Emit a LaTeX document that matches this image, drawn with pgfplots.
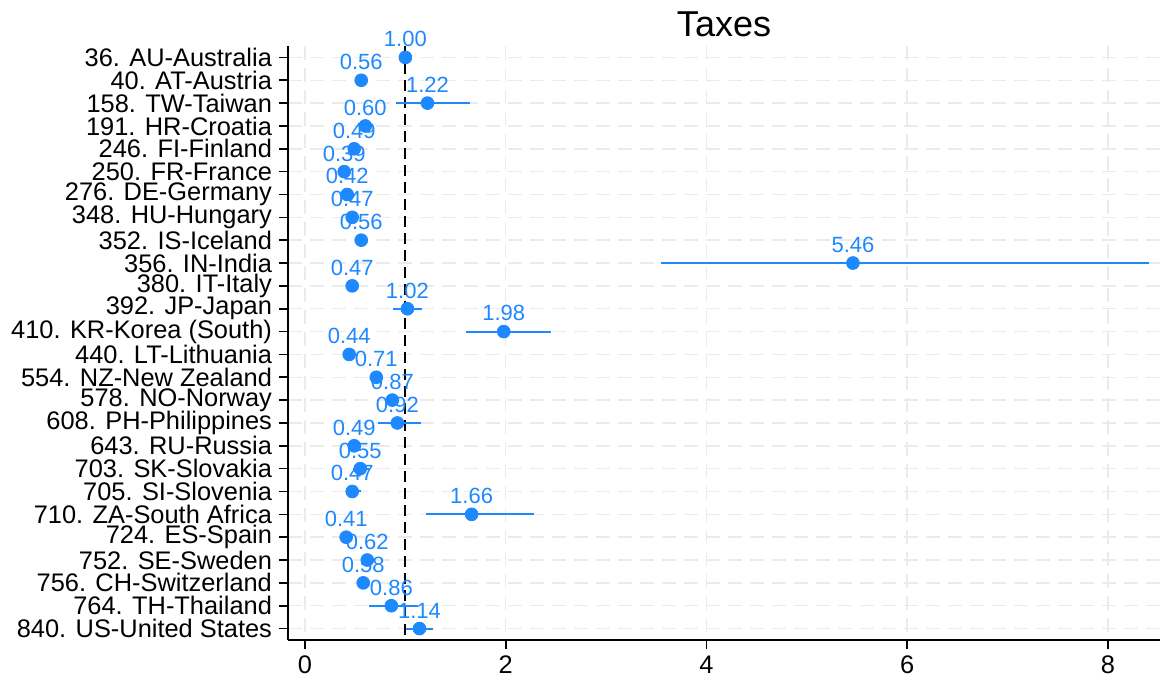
\documentclass[border=0pt]{standalone}
\usepackage{fontspec}
\setmainfont{Liberation Sans}
\usepackage{pgfplots}
\usepackage{pgfplotstable}
\pgfplotsset{compat=1.18}
\definecolor{dblue}{RGB}{30,136,255}
\pgfplotstableread{
y x em ep lab
1 1.00 0.00 0.00 1.00
2 0.56 0.03 0.03 0.56
3 1.22 0.31 0.42 1.22
4 0.60 0.06 0.08 0.60
5 0.49 0.04 0.04 0.49
6 0.39 0.03 0.03 0.39
7 0.42 0.03 0.03 0.42
8 0.47 0.04 0.04 0.47
9 0.56 0.03 0.03 0.56
10 5.46 1.91 2.95 5.46
11 0.47 0.03 0.03 0.47
12 1.02 0.14 0.15 1.02
13 1.98 0.38 0.47 1.98
14 0.44 0.04 0.04 0.44
15 0.71 0.04 0.05 0.71
16 0.87 0.05 0.05 0.87
17 0.92 0.19 0.24 0.92
18 0.49 0.04 0.04 0.49
19 0.55 0.07 0.09 0.55
20 0.47 0.05 0.09 0.47
21 1.66 0.45 0.62 1.66
22 0.41 0.03 0.03 0.41
23 0.62 0.04 0.05 0.62
24 0.58 0.05 0.06 0.58
25 0.86 0.22 0.27 0.86
26 1.14 0.13 0.14 1.14
}\datatable
\begin{document}
\begin{tikzpicture}
\begin{axis}[
  scale only axis, width=436pt, height=297pt,
  xmin=-0.17, xmax=8.52, ymin=0.5, ymax=26.5, y dir=reverse,
  axis x line*=bottom, axis y line*=left,
  xtick={0,2,4,6,8}, ytick={1,...,26},
  yticklabels={36. AU-Australia,40. AT-Austria,158. TW-Taiwan,191. HR-Croatia,246. FI-Finland,250. FR-France,276. DE-Germany,348. HU-Hungary,352. IS-Iceland,356. IN-India,380. IT-Italy,392. JP-Japan,410. KR-Korea (South),440. LT-Lithuania,554. NZ-New Zealand,578. NO-Norway,608. PH-Philippines,643. RU-Russia,703. SK-Slovakia,705. SI-Slovenia,710. ZA-South Africa,724. ES-Spain,752. SE-Sweden,756. CH-Switzerland,764. TH-Thailand,840. US-United States},
  tick align=outside, tick pos=left,
  major tick length=4.5pt,
  xmajorgrids, ymajorgrids,
  grid style={dash pattern=on 7pt off 4pt, line width=0.75pt, color=black!8},
  axis line style={line width=0.8pt},
  tick style={line width=0.8pt, black},
  ticklabel style={font=\fontsize{12.7}{15}\selectfont},
  /pgf/number format/assume math mode=true,
  title={Taxes},
  title style={font=\fontsize{18}{21}\selectfont, anchor=base, at={(0.5,1)}, yshift=-1.5pt},
  clip=false,
]
\addplot[black, line width=1pt, dash pattern=on 5.5pt off 3pt] coordinates {(1,0.5) (1,26.5)};
\addplot[only marks, mark=*, mark size=3.2pt, color=dblue,
  nodes near coords, point meta=explicit symbolic,
  nodes near coords style={font=\fontsize{11}{13}\selectfont, color=dblue, anchor=south, inner sep=0pt, yshift=5pt},
  error bars/.cd, x dir=both, x explicit, error mark=none,
  error bar style={line width=1pt, dblue}]
  table[x=x, y=y, x error plus=ep, x error minus=em, meta=lab] {\datatable};
\end{axis}
\pgfresetboundingbox
\path[use as bounding box] (-144pt,-21.5pt) rectangle (438pt,320pt);
\end{tikzpicture}
\end{document}
